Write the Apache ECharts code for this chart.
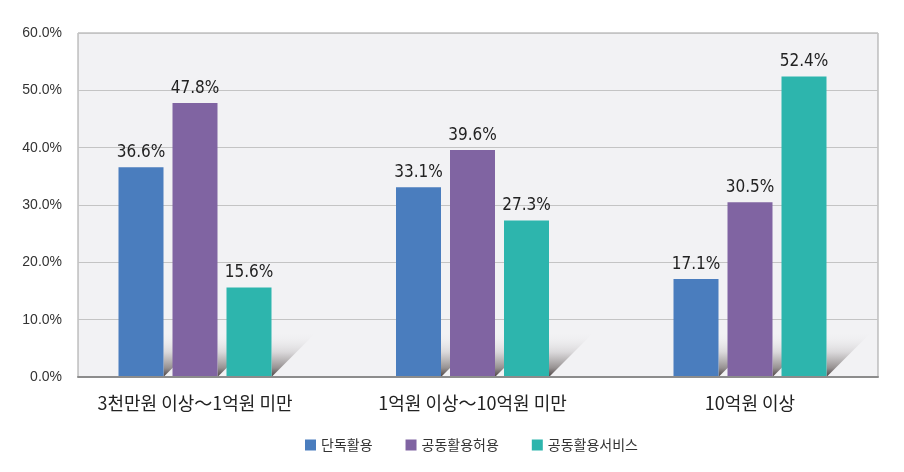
<!DOCTYPE html>
<html><head><meta charset="utf-8">
<script src="https://cdn.jsdelivr.net/npm/echarts@6/dist/echarts.min.js"></script>
<style>html,body{margin:0;padding:0;background:#fff}#c{width:904px;height:472px}</style>
</head><body><div id="c"></div>
<script>
const categories = ['3천만원 이상～1억원 미만', '1억원 이상～10억원 미만', '10억원 이상'];
const seriesNames = ['단독활용', '공동활용허용', '공동활용서비스'];
const solo = [36.6, 33.1, 17.1];
const sharedAllow = [47.8, 39.6, 30.5];
const sharedService = [15.6, 27.3, 52.4];
const yTicks = [0, 10, 20, 30, 40, 50, 60];

const colors = ['#4a7dbe', '#8064a2', '#2db5ad'];
const chart = echarts.init(document.getElementById('c'));
const BW = 45, GAP = 9, SH = 45;
const labelFont = {show: true, position: 'top', distance: 6, fontSize: 17, color: '#222',
  fontFamily: 'Liberation Sans Narrow, DejaVu Sans Condensed, Roboto', formatter: p => p.value.toFixed(1) + '%'};

function bar(name, data, i) {
  return {name, type: 'bar', data, xAxisIndex: 1, yAxisIndex: 1, barWidth: BW, barGap: (GAP / BW * 100) + '%',
    itemStyle: {color: colors[i]}, label: labelFont, z: 3};
}

chart.setOption({
  animation: false,
  grid: [
    {left: 78, right: 26, top: 33, bottom: 95, show: true, backgroundColor: '#f2f2f4', borderColor: '#a0a0a0', borderWidth: 1},
    {left: 56.25, right: 15.25, top: 33, bottom: 95}
  ],
  legend: {
    data: seriesNames, top: 433, left: 300, itemWidth: 11, itemHeight: 11, itemGap: 33, icon: 'rect',
    textStyle: {fontSize: 14, color: '#333', fontFamily: 'Noto Sans CJK KR'}
  },
  xAxis: [
    {type: 'value', gridIndex: 0, min: 0, max: 1, axisLabel: {show: false}, axisTick: {show: false}, splitLine: {show: false},
      axisLine: {show: true, lineStyle: {color: '#8c8c8c', width: 2}}, z: 4},
    {type: 'category', gridIndex: 1, data: categories, axisLine: {show: false}, axisTick: {show: false},
      axisLabel: {fontSize: 18, color: '#222', margin: 17, fontFamily: 'Noto Sans CJK KR'}}
  ],
  yAxis: [
    {type: 'value', gridIndex: 0, min: 0, max: 60, interval: 10,
      axisLabel: {formatter: v => v.toFixed(1) + '%', fontSize: 14, color: '#333', margin: 16, fontFamily: 'Liberation Sans, Noto Sans CJK KR'},
      axisLine: {show: false}, axisTick: {show: false}, splitLine: {lineStyle: {color: '#c4c4c4', width: 1}}},
    {type: 'value', gridIndex: 1, min: 0, max: 60, show: false}
  ],
  series: [
    {
      type: 'custom', xAxisIndex: 1, yAxisIndex: 1, z: 2, silent: true,
      data: categories.map((c, i) => [i]),
      renderItem: (params, api) => {
        const c = api.coord([api.value(0), 0]);
        const cx = c[0], y0 = c[1];
        const total = 3 * BW + 2 * GAP;
        const children = [];
        for (let k = 0; k < 3; k++) {
          const xR = cx - total / 2 + k * (BW + GAP) + BW;
          children.push({
            type: 'polygon',
            shape: {points: [[xR, y0], [xR, y0 - SH], [xR + SH, y0 - SH]]},
            style: {fill: new echarts.graphic.LinearGradient(0, 0, 0, 1, [
              {offset: 0, color: 'rgba(242,242,244,0)'},
              {offset: 0.45, color: 'rgba(215,213,215,0.9)'},
              {offset: 0.8, color: 'rgba(150,145,145,1)'},
              {offset: 1, color: 'rgba(75,65,65,1)'}
            ])}
          });
        }
        return {type: 'group', children};
      }
    },
    bar(seriesNames[0], solo, 0),
    bar(seriesNames[1], sharedAllow, 1),
    bar(seriesNames[2], sharedService, 2)
  ]
});
</script></body></html>
